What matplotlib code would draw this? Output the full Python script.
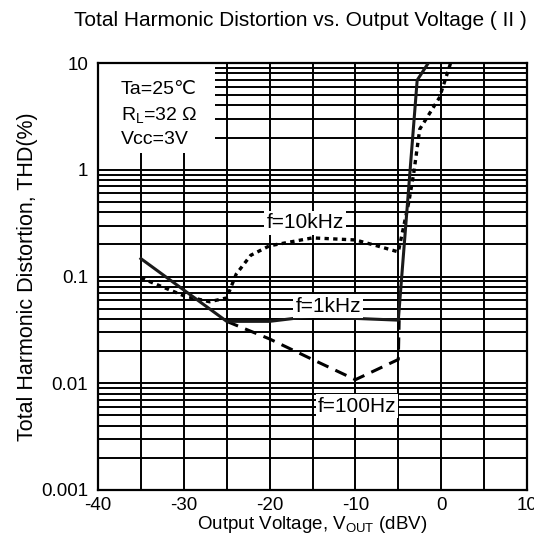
import numpy as np
import matplotlib
matplotlib.use("Agg")
import matplotlib.pyplot as plt
from matplotlib.ticker import FixedLocator, NullFormatter, LogLocator

plt.rcParams['font.family'] = ['Liberation Sans', 'DejaVu Sans']
plt.rcParams['mathtext.fontset'] = 'custom'
plt.rcParams['mathtext.rm'] = 'Liberation Sans'
plt.rcParams['mathtext.it'] = 'Liberation Sans:italic'
plt.rcParams['axes.unicode_minus'] = False

# ---- data ----
x_1k = [-35, -25, -20, -15, -10, -5, -2.8, -1.5]
y_1k = [0.147, 0.038, 0.038, 0.0425, 0.0405, 0.039, 6.9, 10]

x_100 = [-25, -20, -15, -10, -5, -4.9]
y_100 = [0.038, 0.026, 0.0167, 0.0108, 0.0167, 0.039]

x_10k = [-35, -30, -27, -25, -23.9, -22.2, -20, -15, -10, -7.5, -5, -3.75, -3.2, -2.5, -0.2, 1.1]
y_10k = [0.097, 0.066, 0.058, 0.063, 0.105, 0.158, 0.194, 0.23, 0.22, 0.194, 0.17, 0.51, 0.93, 2.4, 4.75, 10]

x_ticks = [-40, -30, -20, -10, 0, 10]
x_grid = [-35, -25, -15, -5, 5]
y_ticks = [0.001, 0.01, 0.1, 1, 10]
y_tick_labels = ['0.001', '0.01', '0.1', '1', '10']

fig = plt.figure(figsize=(5.34, 5.43), dpi=100)
ax = fig.add_axes([98/534, (543-490)/543, 429/534, 427/543])
ax.set_yscale('log')
ax.set_xlim(-40, 10)
ax.set_ylim(0.001, 10)

# grid
ax.xaxis.set_major_locator(FixedLocator(x_ticks))
ax.xaxis.set_minor_locator(FixedLocator(x_grid))
ax.set_yticks(y_ticks)
ax.set_yticklabels(y_tick_labels)
ax.yaxis.set_minor_locator(LogLocator(base=10, subs=np.arange(2, 10)))
ax.yaxis.set_minor_formatter(NullFormatter())
ax.grid(True, which='both', color='black', linewidth=1.4)
ax.tick_params(which='both', length=0, labelsize=13.5, colors='black')
ax.tick_params(axis='y', pad=7)
ax.tick_params(axis='x', pad=5)
for s in ax.spines.values():
    s.set_linewidth(1.6)
    s.set_color('black')
ax.set_axisbelow(True)

# info box
ax.add_patch(plt.Rectangle((0.0, (490-153)/427), (215-98)/429, (153-63)/427,
                           transform=ax.transAxes, facecolor='white', edgecolor='none', zorder=2))
ax.text((121-98)/429, (490-90)/427, 'Ta=25\u2103', transform=ax.transAxes, fontsize=14,
        va='center', ha='left', zorder=3)
ax.text((121-98)/429, (490-115)/427, r'R$_{\mathrm{L}}$=32 $\Omega$', transform=ax.transAxes,
        fontsize=14, va='center', ha='left', zorder=3)
ax.text((121-98)/429, (490-140)/427, 'Vcc=3V', transform=ax.transAxes, fontsize=14,
        va='center', ha='left', zorder=3)

# curves
ax.plot(x_100, y_100, color='black', lw=2.2, linestyle=(0, (4, 2.5)), zorder=4)
ax.plot(x_10k, y_10k, color='black', lw=2.4, linestyle=(0, (1.3, 1.3)), zorder=4)
ax.plot(x_1k, y_1k, color='#1a1a1a', lw=2.2, zorder=5)

# curve labels
bb = dict(facecolor='white', edgecolor='none', pad=1.5)
ax.text((305-98)/429, (490-223)/427, 'f=10kHz', transform=ax.transAxes, fontsize=15,
        ha='center', va='center', bbox=bb, zorder=6)
ax.text((328-98)/429, (490-306)/427, 'f=1kHz', transform=ax.transAxes, fontsize=15,
        ha='center', va='center', bbox=bb, zorder=6)
ax.text((357-98)/429, (490-406)/427, 'f=100Hz', transform=ax.transAxes, fontsize=15,
        ha='center', va='center', bbox=bb, zorder=6)

ax.set_xlabel(r'Output Voltage, V$_{\mathrm{OUT}}$ (dBV)', fontsize=13.5, labelpad=0)
ax.set_ylabel('Total Harmonic Distortion, THD(%)', fontsize=15.5, labelpad=2)
fig.text(300/534, 1 - 20/543, 'Total Harmonic Distortion vs. Output Voltage ( II )',
         fontsize=15, ha='center', va='center')

fig.savefig('out.png', dpi=100)
